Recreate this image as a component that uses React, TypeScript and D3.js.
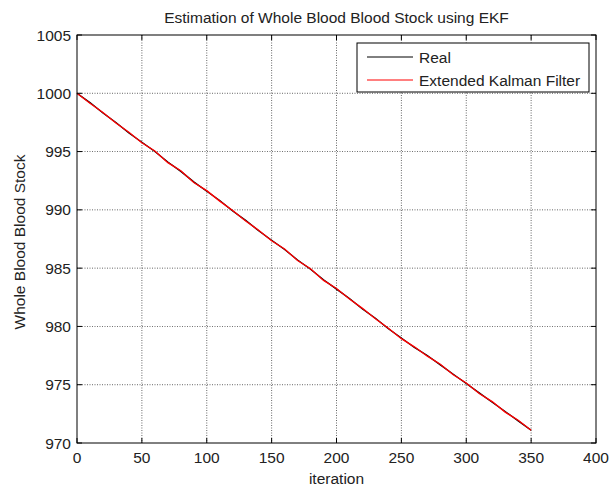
import { useEffect, useRef } from "react"
import * as d3 from "d3"

// iteration samples
const iterations = [
  0, 10, 20, 30, 40, 50, 60, 70, 80, 90, 100, 110, 120, 130, 140, 150, 160, 170,
  180, 190, 200, 210, 220, 230, 240, 250, 260, 270, 280, 290, 300, 310, 320, 330,
  340, 350,
]

const realStock = [
  1000.0, 999.2, 998.3, 997.5, 996.6, 995.8, 995.0, 994.1, 993.3, 992.4, 991.6,
  990.8, 989.9, 989.1, 988.2, 987.4, 986.6, 985.7, 984.9, 984.0, 983.2, 982.4,
  981.5, 980.7, 979.8, 979.0, 978.2, 977.5, 976.7, 975.9, 975.1, 974.3, 973.5,
  972.7, 971.9, 971.1,
]
const ekfStock = [
  1000.0, 999.15, 998.35, 997.45, 996.65, 995.75, 995.05, 994.05, 993.35, 992.35,
  991.65, 990.75, 989.95, 989.05, 988.25, 987.35, 986.65, 985.65, 984.95, 983.95,
  983.25, 982.35, 981.55, 980.65, 979.85, 978.95, 978.25, 977.45, 976.75, 975.85,
  975.15, 974.25, 973.55, 972.65, 971.95, 971.1,
]

const xTicks = [0, 50, 100, 150, 200, 250, 300, 350, 400]
const yTicks = [970, 975, 980, 985, 990, 995, 1000, 1005]

const legendItems = [
  { label: "Real", color: "#000000" },
  { label: "Extended Kalman Filter", color: "#ff0000" },
]

export default function App() {
  const svgRef = useRef<SVGSVGElement>(null)

  useEffect(() => {
    if (!svgRef.current) return
    const svg = d3.select(svgRef.current)
    svg.selectAll("*").remove()

    const width = 609
    const height = 487
    const left = 77
    const right = 596
    const top = 35
    const bottom = 443
    const font = "Liberation Sans, Arial, sans-serif"
    const fs = "15.5px"

    svg.attr("width", width).attr("height", height)

    svg.append("rect").attr("width", width).attr("height", height).style("fill", "#ffffff")

    const x = d3.scaleLinear().domain([0, 400]).range([left, right])
    const y = d3.scaleLinear().domain([970, 1005]).range([bottom, top])

    // grid
    const grid = svg.append("g")
    xTicks.slice(1, -1).forEach((t) => {
      grid.append("line")
        .attr("x1", x(t)).attr("x2", x(t))
        .attr("y1", top).attr("y2", bottom)
        .style("stroke", "#000").style("stroke-width", 0.8)
        .style("stroke-dasharray", "1,1.5").style("opacity", 0.75)
    })
    yTicks.slice(1, -1).forEach((t) => {
      grid.append("line")
        .attr("x1", left).attr("x2", right)
        .attr("y1", y(t)).attr("y2", y(t))
        .style("stroke", "#000").style("stroke-width", 0.8)
        .style("stroke-dasharray", "1,1.5").style("opacity", 0.75)
    })

    // lines
    const realData = iterations.map((it, i) => [it, realStock[i]] as [number, number])
    const ekfData = iterations.map((it, i) => [it, ekfStock[i]] as [number, number])
    const line = d3.line<[number, number]>().x((d) => x(d[0])).y((d) => y(d[1]))

    svg.append("path").datum(realData).attr("d", line)
      .style("fill", "none").style("stroke", "#000").style("stroke-width", 1.3)
    svg.append("path").datum(ekfData).attr("d", line)
      .style("fill", "none").style("stroke", "#ff0000").style("stroke-width", 1.3)

    // ticks (inward, all four sides)
    const tickLen = 5
    const ticks = svg.append("g").style("stroke", "#000").style("stroke-width", 1)
    xTicks.forEach((t) => {
      ticks.append("line").attr("x1", x(t)).attr("x2", x(t)).attr("y1", bottom).attr("y2", bottom - tickLen)
      ticks.append("line").attr("x1", x(t)).attr("x2", x(t)).attr("y1", top).attr("y2", top + tickLen)
    })
    yTicks.forEach((t) => {
      ticks.append("line").attr("x1", left).attr("x2", left + tickLen).attr("y1", y(t)).attr("y2", y(t))
      ticks.append("line").attr("x1", right).attr("x2", right - tickLen).attr("y1", y(t)).attr("y2", y(t))
    })

    // frame
    svg.append("rect")
      .attr("x", left).attr("y", top)
      .attr("width", right - left).attr("height", bottom - top)
      .style("fill", "none").style("stroke", "#000").style("stroke-width", 1)

    // tick labels
    xTicks.forEach((t) => {
      svg.append("text")
        .attr("x", x(t)).attr("y", bottom + 20)
        .attr("text-anchor", "middle")
        .style("font-family", font).style("font-size", fs).style("fill", "#222")
        .text(t)
    })
    yTicks.forEach((t) => {
      svg.append("text")
        .attr("x", left - 6).attr("y", y(t) + 5.5)
        .attr("text-anchor", "end")
        .style("font-family", font).style("font-size", fs).style("fill", "#222")
        .text(t)
    })

    // title and axis labels
    svg.append("text")
      .attr("x", (left + right) / 2).attr("y", 23)
      .attr("text-anchor", "middle")
      .style("font-family", font).style("font-size", fs).style("fill", "#222")
      .text("Estimation of Whole Blood Blood Stock using EKF")

    svg.append("text")
      .attr("x", (left + right) / 2).attr("y", 484)
      .attr("text-anchor", "middle")
      .style("font-family", font).style("font-size", fs).style("fill", "#222")
      .text("iteration")

    svg.append("text")
      .attr("transform", `translate(25, ${(top + bottom) / 2 + 3}) rotate(-90)`)
      .attr("text-anchor", "middle")
      .style("font-family", font).style("font-size", fs).style("fill", "#222")
      .text("Whole Blood Blood Stock")

    // legend
    const lx = 357
    const ly = 43
    const lg = svg.append("g")
    lg.append("rect")
      .attr("x", lx).attr("y", ly).attr("width", 232).attr("height", 49)
      .style("fill", "#fff").style("stroke", "#000").style("stroke-width", 1)
    legendItems.forEach((item, i) => {
      const cy = ly + 14 + i * 23
      lg.append("line")
        .attr("x1", lx + 10).attr("x2", lx + 56)
        .attr("y1", cy).attr("y2", cy)
        .style("stroke", item.color).style("stroke-width", 1)
      lg.append("text")
        .attr("x", lx + 62).attr("y", cy + 5.5)
        .style("font-family", font).style("font-size", fs).style("fill", "#222")
        .text(item.label)
    })
  }, [])

  return (
    <div style={{ position: "absolute", left: 0, top: 0 }}>
      <svg ref={svgRef} style={{ display: "block" }} />
    </div>
  )
}
